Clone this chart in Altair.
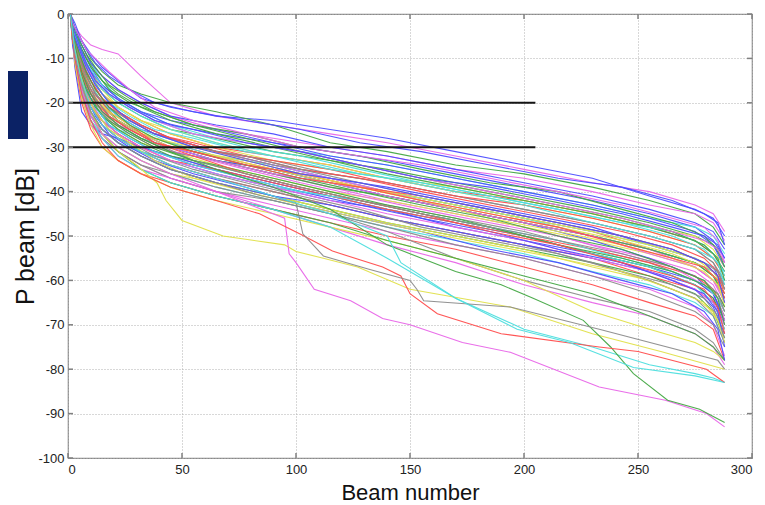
import altair as alt
import pandas as pd

# ---------------- data ----------------
BEAM_KNOTS = [1, 3, 6, 10, 15, 22, 32, 45, 65, 90, 115, 140, 170, 200, 230, 255, 275, 283, 288]

L01 = [0, -3, -5, -7, -8, -9, -14, -20, -23, -25, -27, -29, -32, -35, -38, -40, -43, -45, -49]
L02 = [0, -2, -6, -9, -12, -15, -19, -21, -23, -24, -26, -28, -31, -34, -37, -41, -44, -46, -50]
L03 = [0, -3, -6, -10, -13, -16, -18, -20, -22, -25, -29, -31, -34, -36, -39, -42, -45, -48, -52]
L04 = [0, -4, -8, -11, -14, -17, -20, -23, -26, -28, -30, -32, -35, -37, -40, -43, -45, -47, -51]
L05 = [0, -4, -8, -12, -16, -19, -22, -24, -26, -29, -31, -33, -36, -39, -42, -45, -48, -51, -55]
L06 = [0, -3, -7, -11, -15, -19, -22, -25, -28, -30, -32, -34, -37, -40, -43, -46, -48, -50, -54]
L07 = [0, -5, -9, -13, -17, -20, -23, -26, -28, -31, -33, -35, -38, -41, -44, -47, -50, -52, -56]
L08 = [0, -5, -10, -14, -18, -21, -24, -27, -30, -32, -34, -37, -40, -42, -45, -48, -51, -54, -58]
L09 = [0, -4, -9, -13, -17, -21, -24, -27, -30, -33, -35, -37, -39, -42, -45, -48, -50, -53, -57]
L10 = [0, -6, -11, -15, -19, -22, -25, -28, -31, -33, -36, -38, -41, -44, -47, -50, -53, -56, -60]
L11 = [0, -6, -12, -17, -20, -23, -26, -28, -31, -34, -37, -39, -42, -45, -48, -52, -55, -57, -62]
L12 = [0, -7, -13, -18, -21, -24, -27, -29, -32, -35, -37, -40, -43, -46, -49, -53, -56, -58, -61]
L13 = [0, -5, -11, -16, -20, -24, -27, -30, -33, -35, -38, -41, -44, -47, -50, -53, -56, -59, -63]
L14 = [0, -8, -14, -19, -23, -26, -28, -30, -33, -36, -38, -40, -43, -46, -50, -53, -56, -58, -62]
L15 = [0, -6, -12, -18, -22, -25, -28, -31, -33, -36, -39, -42, -45, -48, -52, -55, -58, -61, -66]
L16 = [0, -7, -13, -18, -22, -26, -29, -31, -34, -37, -40, -42, -45, -48, -51, -54, -57, -60, -64]
L17 = [0, -8, -15, -20, -24, -27, -30, -32, -35, -38, -41, -43, -46, -49, -53, -56, -60, -63, -68]
L18 = [0, -9, -16, -21, -25, -28, -31, -33, -36, -39, -42, -44, -48, -51, -54, -58, -61, -64, -70]
L19 = [0, -8, -14, -20, -25, -28, -31, -34, -37, -40, -43, -46, -49, -52, -55, -59, -62, -65, -71]
L20 = [0, -9, -17, -22, -26, -29, -32, -35, -38, -41, -44, -47, -50, -53, -56, -59, -63, -67, -73]
L21 = [0, -10, -18, -24, -27, -30, -33, -36, -39, -42, -45, -48, -51, -54, -58, -61, -65, -68, -74]
L22 = [0, -12, -22, -25, -27, -28, -30, -32, -35, -38, -41, -44, -47, -50, -54, -57, -60, -63, -69]
L23 = [0, -10, -19, -25, -28, -31, -34, -37, -40, -43, -46, -49, -52, -55, -59, -62, -66, -70, -77]
L24 = [0, -9, -17, -23, -27, -30, -33, -36, -38, -41, -44, -47, -50, -53, -57, -60, -64, -67, -72]
L25 = [0, -10, -18, -24, -28, -31, -34, -36, -39, -42, -45, -48, -52, -55, -59, -63, -67, -70, -75]
L26 = [0, -11, -20, -26, -30, -33, -36, -38, -41, -44, -47, -50, -53, -57, -61, -65, -68, -71, -78]
L27 = [0, -7, -14, -19, -23, -26, -29, -32, -34, -37, -40, -43, -46, -50, -54, -57, -61, -64, -69]
L28 = [0, -7, -13, -18, -21, -24, -27, -30, -33, -35, -38, -41, -44, -47, -51, -55, -59, -63, -69]
L29 = [0, -6, -12, -16, -20, -23, -26, -29, -32, -34, -37, -40, -43, -46, -49, -52, -55, -57, -60]
L30 = [0, -5, -10, -15, -19, -22, -25, -28, -31, -34, -37, -40, -44, -47, -50, -53, -57, -60, -64]
L31 = [0, -5, -10, -14, -18, -21, -24, -26, -29, -32, -34, -37, -40, -43, -46, -49, -52, -55, -59]
L32 = [0, -4, -9, -14, -18, -22, -25, -28, -31, -34, -36, -38, -41, -44, -47, -50, -53, -56, -61]
L33 = [0, -5, -9, -13, -16, -19, -22, -25, -27, -29, -32, -34, -37, -40, -43, -46, -49, -52, -57]
L34 = [0, -6, -11, -15, -19, -22, -25, -28, -31, -33, -35, -38, -41, -43, -46, -49, -52, -55, -59]
L35 = [0, -8, -14, -19, -22, -25, -28, -31, -33, -36, -39, -41, -44, -47, -50, -53, -56, -59, -64]
L36 = [0, -9, -16, -22, -26, -29, -31, -33, -36, -39, -41, -44, -47, -50, -54, -57, -61, -65, -71]
L37 = [0, -7, -13, -18, -22, -25, -27, -30, -33, -36, -38, -41, -44, -47, -50, -54, -57, -60, -65]
L38 = [0, -6, -12, -17, -21, -24, -27, -30, -32, -35, -38, -40, -43, -46, -49, -52, -55, -58, -62]
L39 = [0, -8, -15, -21, -25, -28, -31, -34, -37, -40, -43, -46, -49, -52, -56, -60, -64, -68, -74]
L40 = [0, -10, -18, -23, -26, -29, -32, -35, -38, -41, -43, -46, -49, -52, -55, -58, -62, -66, -72]
L41 = [0, -9, -16, -21, -24, -27, -30, -33, -35, -38, -41, -44, -47, -50, -53, -56, -59, -62, -67]
L42 = [0, -4, -8, -12, -15, -18, -21, -24, -27, -30, -33, -36, -39, -42, -45, -48, -51, -54, -58]
L43 = [0, -5, -10, -14, -17, -20, -23, -26, -29, -32, -35, -37, -40, -43, -47, -50, -53, -55, -58]
L44 = [0, -8, -14, -20, -24, -27, -30, -33, -36, -39, -42, -45, -48, -51, -55, -58, -62, -65, -70]
L45 = [0, -3, -7, -11, -14, -17, -20, -23, -25, -27, -30, -32, -35, -38, -41, -44, -47, -49, -53]
L46 = [0, -9, -17, -23, -27, -31, -34, -37, -40, -42, -45, -49, -55, -60, -64, -67, -71, -74, -78]
L47 = [0, -10, -18, -24, -28, -32, -35, -37, -40, -44, -48, -52, -56, -61, -65, -68, -72, -75, -79]
L48 = [0, -11, -19, -25, -30, -33, -36, -39, -42, -45, -48, -51, -55, -60, -67, -71, -74, -76, -78]
L49 = [0, -9, -16, -22, -27, -31, -35, -38, -41, -44, -47, -51, -55, -59, -63, -68, -72, -75, -78]
L50 = [0, -10, -18, -24, -28, -32, -35, -38, -41, -44, -48, -55, -64, -71, -75, -79, -81, -82, -83]

MAIN_LINES = [L01, L02, L03, L04, L05, L06, L07, L08, L09, L10,
              L11, L12, L13, L14, L15, L16, L17, L18, L19, L20,
              L21, L22, L23, L24, L25, L26, L27, L28, L29, L30,
              L31, L32, L33, L34, L35, L36, L37, L38, L39, L40,
              L41, L42, L43, L44, L45, L46, L47, L48, L49, L50]
MAIN_COLORS = ["m", "b", "g", "m", "b", "c", "g", "r", "y", "k",
               "b", "r", "g", "c", "m", "y", "k", "b", "r", "g",
               "c", "b", "m", "y", "k", "r", "g", "b", "c", "m",
               "y", "k", "b", "r", "g", "c", "m", "y", "k", "b",
               "r", "g", "c", "m", "b", "k", "m", "y", "g", "c"]

# second group of bundle lines, read at other beam positions
BEAM_KNOTS_2 = [1, 2, 5, 8, 12, 18, 27, 38, 55, 78, 102, 128, 155, 185, 215, 243, 265, 279, 285, 288]
M01 = [0, -2, -5, -8, -11, -14, -17, -20, -22, -24, -26, -29, -31, -34, -37, -39, -42, -45, -47, -52]
M02 = [0, -3, -7, -10, -13, -17, -20, -22, -25, -27, -30, -32, -35, -38, -40, -44, -47, -50, -53, -57]
M03 = [0, -4, -9, -13, -17, -21, -24, -27, -29, -32, -35, -37, -40, -43, -46, -49, -52, -55, -58, -62]
M04 = [0, -3, -8, -12, -16, -20, -23, -26, -28, -31, -33, -36, -38, -41, -44, -47, -49, -52, -55, -59]
M05 = [0, -5, -11, -16, -20, -24, -27, -30, -32, -35, -38, -41, -44, -47, -50, -54, -57, -61, -64, -69]
M06 = [0, -4, -10, -15, -19, -23, -26, -28, -31, -33, -36, -39, -42, -45, -48, -51, -54, -57, -60, -66]
M07 = [0, -6, -13, -18, -22, -26, -29, -32, -35, -38, -41, -44, -48, -51, -54, -58, -61, -64, -68, -73]
M08 = [0, -5, -12, -17, -21, -25, -28, -31, -34, -37, -40, -43, -46, -49, -53, -56, -60, -63, -67, -75]
M09 = [0, -3, -6, -9, -12, -16, -19, -22, -25, -28, -31, -34, -37, -40, -43, -46, -49, -52, -55, -60]
M10 = [0, -4, -10, -14, -18, -22, -25, -29, -31, -34, -36, -39, -41, -44, -47, -50, -53, -56, -59, -63]
M11 = [0, -6, -12, -17, -21, -25, -28, -31, -34, -37, -40, -42, -45, -48, -51, -55, -58, -61, -64, -67]
M12 = [0, -2, -5, -8, -10, -13, -17, -21, -24, -27, -30, -32, -34, -37, -40, -43, -46, -48, -51, -56]
M13 = [0, -5, -11, -15, -19, -22, -25, -28, -30, -33, -36, -39, -42, -46, -49, -52, -55, -58, -61, -65]
M14 = [0, -4, -9, -14, -18, -21, -24, -27, -30, -32, -35, -38, -41, -44, -47, -50, -53, -56, -58, -62]
M15 = [0, -7, -14, -19, -23, -27, -30, -33, -36, -39, -43, -46, -49, -53, -56, -60, -63, -67, -71, -78]
M16 = [0, -6, -12, -17, -21, -24, -27, -30, -33, -36, -39, -42, -45, -48, -52, -55, -58, -61, -63, -66]
M17 = [0, -5, -11, -15, -19, -23, -26, -29, -32, -36, -39, -42, -45, -49, -52, -56, -59, -62, -66, -72]
M18 = [0, -3, -7, -11, -14, -18, -21, -24, -27, -30, -32, -35, -38, -41, -44, -47, -50, -53, -56, -61]
M19 = [0, -4, -8, -12, -15, -18, -21, -24, -27, -29, -31, -34, -37, -40, -43, -46, -49, -51, -53, -56]
M20 = [0, -6, -13, -18, -22, -26, -29, -33, -37, -40, -43, -46, -49, -52, -55, -58, -62, -65, -69, -74]
M21 = [0, -5, -10, -15, -19, -23, -26, -29, -33, -36, -39, -42, -45, -48, -51, -54, -57, -60, -63, -67]
M22 = [0, -3, -7, -11, -15, -18, -21, -24, -26, -29, -31, -34, -37, -39, -42, -45, -48, -50, -52, -55]
M23 = [0, -4, -9, -13, -17, -21, -25, -28, -31, -34, -37, -40, -43, -46, -50, -53, -57, -60, -64, -70]
M24 = [0, -6, -12, -16, -20, -23, -26, -29, -31, -34, -37, -39, -42, -45, -48, -52, -55, -57, -60, -64]
M25 = [0, -4, -8, -12, -16, -20, -24, -27, -30, -33, -36, -38, -41, -44, -47, -50, -53, -56, -59, -65]
SECOND_LINES = [M01, M02, M03, M04, M05, M06, M07, M08, M09, M10,
                M11, M12, M13, M14, M15, M16, M17, M18, M19, M20,
                M21, M22, M23, M24, M25]
SECOND_COLORS = ["b", "g", "r", "c", "m", "y", "k", "b", "g", "r",
                 "c", "m", "y", "k", "b", "g", "r", "c", "m", "y",
                 "k", "b", "g", "r", "b"]

# outlier lines with their own knots
YEL_X = [1, 3, 6, 10, 15, 22, 30, 39, 43, 50, 68, 95, 100, 112, 127, 150, 194, 230, 260, 288]
YEL_Y = [0, -8, -16, -22, -27, -31, -34, -38, -42, -46.5, -50, -52, -53.5, -55, -57, -62, -66, -72, -76, -80]
MAG_X = [1, 3, 6, 10, 15, 22, 32, 45, 65, 80, 95, 97, 100, 108, 124, 138, 150, 173, 194, 233, 262, 280, 288]
MAG_Y = [0, -9, -17, -23, -27, -30, -33, -36, -40, -43, -46, -54, -56, -62, -64.6, -68.6, -70, -74, -76.2, -84, -87, -90, -93]
GRN_X = [1, 3, 6, 10, 15, 22, 32, 45, 65, 90, 115, 140, 170, 190, 204, 226, 238, 248, 263, 277, 288]
GRN_Y = [0, -7, -13, -18, -22, -25, -28, -31, -35, -39, -44, -52, -58, -61, -64, -69, -75, -81, -87, -89, -92]
RED_X = [1, 3, 6, 10, 15, 22, 32, 45, 65, 84, 102, 116, 138, 146, 150, 162, 190, 233, 250, 280, 288]
RED_Y = [0, -10, -18, -24, -29, -33, -36, -39, -42, -45, -49.6, -53.4, -57, -59, -63, -67.5, -72, -75, -76, -80, -83]
GRY_X = [1, 3, 6, 10, 15, 22, 32, 45, 65, 85, 100, 103, 112, 132, 150, 153, 156, 194, 233, 285, 288]
GRY_Y = [0, -9, -16, -22, -26, -29, -32, -35, -38, -41, -42.5, -49.5, -54.5, -57.5, -60, -62, -64.6, -66, -71, -78, -80]
CYN_X = [1, 3, 6, 10, 15, 22, 32, 45, 65, 90, 115, 140, 146, 170, 197, 220, 248, 275, 288]
CYN_Y = [0, -8, -15, -21, -25, -28, -31, -34, -37, -41, -45, -50, -56, -64, -71, -74, -79.6, -81.5, -83]
OUTLIERS = [(YEL_X, YEL_Y, "y"), (MAG_X, MAG_Y, "m"), (GRN_X, GRN_Y, "g"),
            (RED_X, RED_Y, "r"), (GRY_X, GRY_Y, "k"), (CYN_X, CYN_Y, "c")]

PALETTE = {"b": "#4d4dff", "g": "#45a845", "r": "#ff4d4d", "c": "#4ddede",
           "m": "#e866e8", "y": "#e0e04a", "k": "#8c8c8c"}

THRESH_DB = [-20, -30]
THRESH_START = [0, 0]
THRESH_END = [205, 205]
X_TICKS = [0, 50, 100, 150, 200, 250, 300]
Y_TICKS = [0, -10, -20, -30, -40, -50, -60, -70, -80, -90, -100]

# ---------------- build tables ----------------
rows = []
lid = 0
groups = [(MAIN_LINES, MAIN_COLORS, BEAM_KNOTS), (SECOND_LINES, SECOND_COLORS, BEAM_KNOTS_2)]
for lines_, cols_, knots_ in groups:
    for vals, c in zip(lines_, cols_):
        for b, v in zip(knots_, vals):
            rows.append({"line": lid, "beam": b, "p": v, "col": PALETTE[c]})
        lid += 1
for xs, ys, c in OUTLIERS:
    for b, v in zip(xs, ys):
        rows.append({"line": lid, "beam": b, "p": v, "col": PALETTE[c]})
    lid += 1
df = pd.DataFrame(rows)

thr = pd.DataFrame({"p": THRESH_DB, "beam": THRESH_START, "beam_end": THRESH_END})
xt = pd.DataFrame({"beam": X_TICKS})
yt = pd.DataFrame({"p": Y_TICKS})

W, H = 684, 444
FONT = "Liberation Sans"

xscale = alt.Scale(domain=[0, 300], nice=False, zero=False)
yscale = alt.Scale(domain=[-100, 0], nice=False, zero=False)

xaxis = alt.Axis(values=X_TICKS, grid=True, gridDash=[1, 2], gridColor="#b0b0b0",
                 domain=False, ticks=False, labelPadding=5, labelFontSize=13,
                 labelFont=FONT, labelColor="#222", title="Beam number",
                 titleFont=FONT, titleFontSize=22, titleFontWeight="normal",
                 titleColor="#111", titleX=342, titleY=41, titleBaseline="alphabetic",
                 titleAlign="center", labelExpr="'' + datum.value")
yaxis = alt.Axis(values=Y_TICKS, grid=True, gridDash=[1, 2], gridColor="#b0b0b0",
                 domain=False, ticks=False, labelPadding=4, labelFontSize=13,
                 labelFont=FONT, labelColor="#222", title="P beam [dB]",
                 titleFont=FONT, titleFontSize=25, titleFontWeight="normal",
                 titleColor="#111", titleX=-35, titleY=222, titleAngle=270,
                 titleBaseline="alphabetic", titleAlign="center",
                 labelExpr="'' + datum.value")

X = alt.X("beam:Q", scale=xscale, axis=xaxis)
Y = alt.Y("p:Q", scale=yscale, axis=yaxis)

lines = alt.Chart(df).mark_line(strokeWidth=1.1, opacity=0.95).encode(
    x=X, y=Y,
    detail="line:N",
    color=alt.Color("col:N", scale=None),
)

thresh = alt.Chart(thr).mark_rule(color="#151515", strokeWidth=2).encode(
    x=X, x2="beam_end:Q", y=Y,
)

tick_col = "#808080"
tb = alt.Chart(xt).mark_rule(color=tick_col, strokeWidth=1.5).encode(
    x=X, y=alt.value(H), y2=alt.value(H - 5))
tt = alt.Chart(xt).mark_rule(color=tick_col, strokeWidth=1.5).encode(
    x=X, y=alt.value(0), y2=alt.value(5))
tl = alt.Chart(yt).mark_rule(color=tick_col, strokeWidth=1.5).encode(
    y=Y, x=alt.value(0), x2=alt.value(5))
tr = alt.Chart(yt).mark_rule(color=tick_col, strokeWidth=1.5).encode(
    y=Y, x=alt.value(W - 5), x2=alt.value(W))

badge = alt.Chart(pd.DataFrame({"k": [0]})).mark_rect(color="#0b2265").encode(
    x=alt.value(-60), x2=alt.value(-40), y=alt.value(57), y2=alt.value(125))

chart = alt.layer(lines, thresh, tb, tt, tl, tr, badge).properties(
    width=W, height=H,
    autosize=alt.AutoSizeParams(type="none"),
    padding={"left": 60, "top": 6, "right": 5, "bottom": 52},
    background="white",
).configure_view(stroke="#8a8a8a", strokeWidth=1.2)

chart.save("out.html", embed_options={"renderer": "svg", "actions": False})
